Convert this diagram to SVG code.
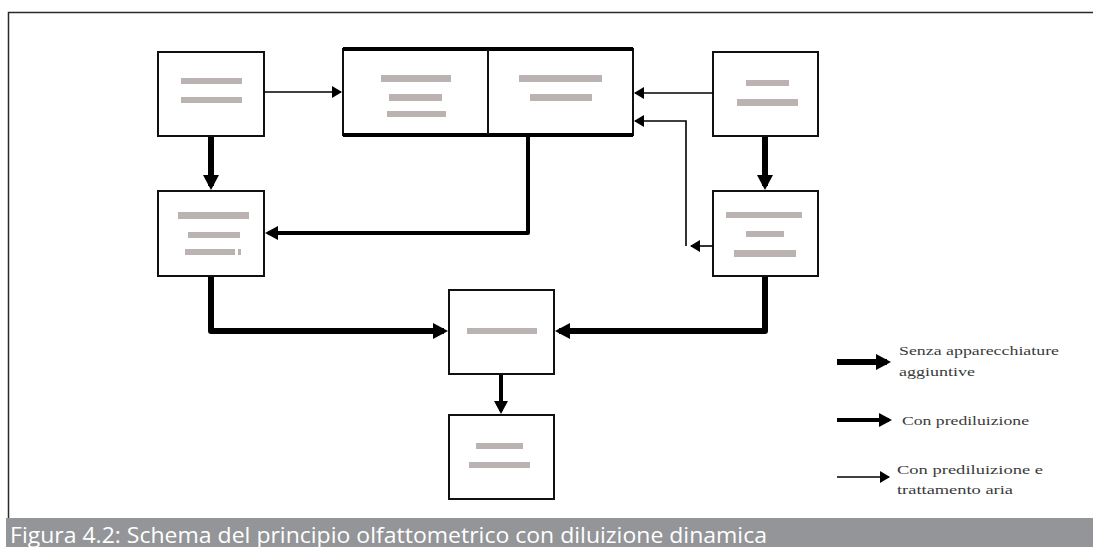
<svg xmlns="http://www.w3.org/2000/svg" width="1093" height="547" viewBox="0 0 1093 547">
  <style>
    .box { fill: #ffffff; stroke: #111111; stroke-width: 2; }
    .bar { fill: #bbb3b1; }
    .thick { fill: none; stroke: #000000; stroke-width: 6; stroke-linejoin: round; }
    .med { fill: none; stroke: #000000; stroke-width: 4; stroke-linejoin: round; }
    .thin { fill: none; stroke: #000000; stroke-width: 1.6; }
    .legend { font-family: "Liberation Serif", serif; font-size: 13px; fill: #3a3a3a; }
    .caption { font-family: "Open Sans", "DejaVu Sans", sans-serif; font-size: 22px; fill: #ffffff; }
  </style>
  <defs>
    <marker id="ah-thick" markerUnits="userSpaceOnUse" markerWidth="18" markerHeight="18" refX="11" refY="9" orient="auto">
      <path d="M0,1 L15,9 L0,17 z" fill="#000"/>
    </marker>
    <marker id="ah-med" markerUnits="userSpaceOnUse" markerWidth="16" markerHeight="16" refX="10" refY="8" orient="auto">
      <path d="M0,1 L13,8 L0,15 z" fill="#000"/>
    </marker>
    <marker id="ah-thin" markerUnits="userSpaceOnUse" markerWidth="14" markerHeight="14" refX="9" refY="7" orient="auto">
      <path d="M0,1 L10,7 L0,13 z" fill="#000"/>
    </marker>
  </defs>

  <rect width="1093" height="547" fill="#ffffff"/>

  <!-- page frame -->
  <path d="M8.5,518 V12.5 H1093" fill="none" stroke="#2a2a2a" stroke-width="1.5"/>

  <!-- top-left node -->
  <g id="node-top-left">
    <rect class="box" x="158" y="52" width="106" height="84"/>
    <rect class="bar" x="181" y="78" width="61" height="6"/>
    <rect class="bar" x="181" y="97" width="61" height="6"/>
  </g>

  <!-- central double node -->
  <g id="node-top-center">
    <rect class="box" x="343" y="49" width="290" height="86"/>
    <line x1="343" y1="49" x2="633" y2="49" stroke="#000" stroke-width="4"/>
    <line x1="343" y1="135" x2="633" y2="135" stroke="#000" stroke-width="4"/>
    <line x1="488" y1="49" x2="488" y2="135" stroke="#111" stroke-width="2"/>
    <rect class="bar" x="381" y="75" width="70" height="7"/>
    <rect class="bar" x="389" y="94" width="53" height="7"/>
    <rect class="bar" x="387" y="111" width="59" height="6"/>
    <rect class="bar" x="519" y="75" width="83" height="7"/>
    <rect class="bar" x="530" y="94" width="62" height="7"/>
  </g>

  <!-- top-right node -->
  <g id="node-top-right">
    <rect class="box" x="713" y="52" width="105" height="84"/>
    <rect class="bar" x="746" y="80" width="43" height="6"/>
    <rect class="bar" x="737" y="99" width="61" height="7"/>
  </g>

  <!-- middle-left node -->
  <g id="node-mid-left">
    <rect class="box" x="158" y="191" width="106" height="85"/>
    <rect class="bar" x="178" y="212" width="71" height="7"/>
    <rect class="bar" x="188" y="232" width="52" height="6"/>
    <rect class="bar" x="185" y="249" width="50" height="6"/>
    <rect class="bar" x="238" y="249" width="3" height="6"/>
  </g>

  <!-- middle-right node -->
  <g id="node-mid-right">
    <rect class="box" x="713" y="191" width="105" height="85"/>
    <rect class="bar" x="726" y="212" width="76" height="6"/>
    <rect class="bar" x="746" y="231" width="38" height="6"/>
    <rect class="bar" x="734" y="250" width="62" height="7"/>
  </g>

  <!-- mixing node -->
  <g id="node-center">
    <rect class="box" x="449" y="290" width="105" height="84"/>
    <rect class="bar" x="467" y="328" width="70" height="6"/>
  </g>

  <!-- output node -->
  <g id="node-bottom">
    <rect class="box" x="449" y="415" width="105" height="84"/>
    <rect class="bar" x="476" y="443" width="47" height="6"/>
    <rect class="bar" x="469" y="462" width="61" height="6"/>
  </g>

  <!-- connectors -->
  <g id="connectors">
    <path class="thin" d="M264,92 H341" marker-end="url(#ah-thin)"/>
    <path class="thin" d="M713,93 H635" marker-end="url(#ah-thin)"/>
    <path class="thin" d="M713,246 H691" marker-end="url(#ah-thin)"/>
    <path class="thin" d="M686,246 V121 H635" marker-end="url(#ah-thin)"/>
    <path class="thick" d="M211,137 V186" marker-end="url(#ah-thick)"/>
    <path class="thick" d="M765,137 V186" marker-end="url(#ah-thick)"/>
    <path class="med" d="M528,136 V233 H268" marker-end="url(#ah-med)"/>
    <path class="thick" d="M211,277 V331 H444" marker-end="url(#ah-thick)"/>
    <path class="thick" d="M765,277 V331 H559" marker-end="url(#ah-thick)"/>
    <path class="med" d="M501,375 V411" marker-end="url(#ah-med)"/>
  </g>

  <!-- legend -->
  <g id="legend">
    <path class="thick" d="M837,362 H887" marker-end="url(#ah-thick)"/>
    <text class="legend" x="899" y="355" textLength="160" lengthAdjust="spacingAndGlyphs">Senza apparecchiature</text>
    <text class="legend" x="899" y="376" textLength="76" lengthAdjust="spacingAndGlyphs">aggiuntive</text>
    <path class="med" d="M837,420 H889" marker-end="url(#ah-med)"/>
    <text class="legend" x="902" y="425" textLength="127" lengthAdjust="spacingAndGlyphs">Con prediluizione</text>
    <path class="thin" d="M837,477 H889" marker-end="url(#ah-thin)"/>
    <text class="legend" x="897" y="474" textLength="146" lengthAdjust="spacingAndGlyphs">Con prediluizione e</text>
    <text class="legend" x="897" y="494" textLength="116" lengthAdjust="spacingAndGlyphs">trattamento aria</text>
  </g>

  <!-- caption bar -->
  <rect x="6" y="518" width="1087" height="29" fill="#939598"/>
  <text class="caption" x="10" y="543" textLength="757" lengthAdjust="spacingAndGlyphs">Figura 4.2: Schema del principio olfattometrico con diluizione dinamica</text>
</svg>
